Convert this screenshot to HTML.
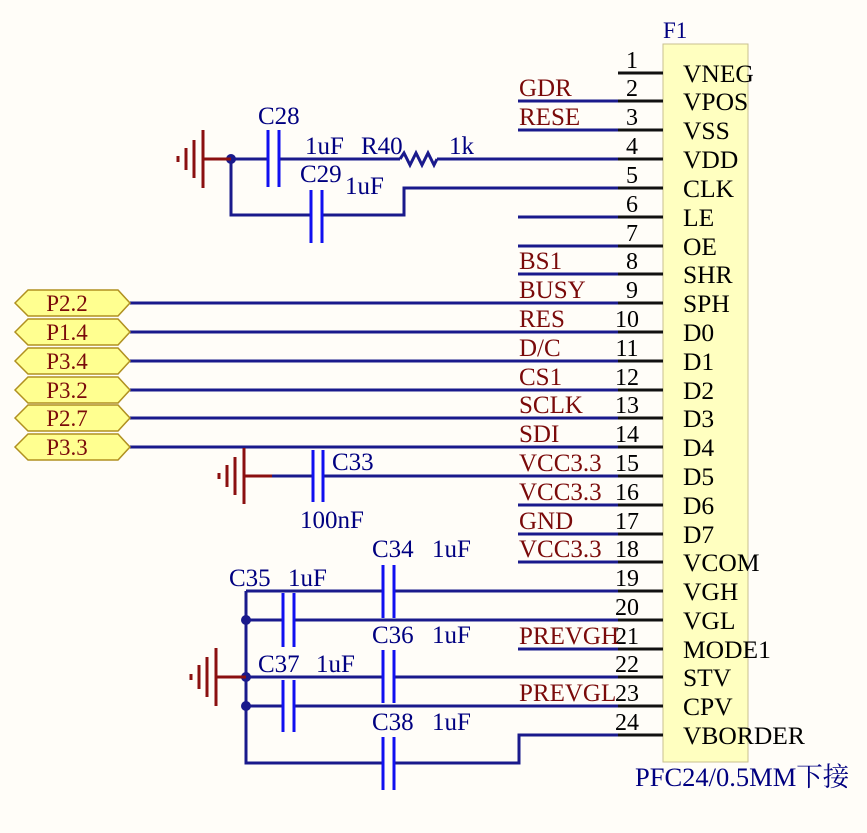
<!DOCTYPE html>
<html><head><meta charset="utf-8"><style>
html,body{margin:0;padding:0;background:#fffdf8;}
svg{display:block;font-family:"Liberation Serif","Noto Serif CJK SC",serif;}
.w{stroke:#1a1a8c;stroke-width:3;fill:none}
.k{stroke:#111;stroke-width:3;fill:none}
.cp{stroke:#1010f0;stroke-width:3;fill:none}
.g{stroke:#8b1010;stroke-width:3;fill:none}
.pn{font-size:25.5px;fill:#000}
.nm{font-size:24px;fill:#000;text-anchor:middle}
.nl{font-size:25px;fill:#7a0a0a}
.bl{font-size:25px;fill:#000080}
</style></head><body>
<svg width="867" height="833" viewBox="0 0 867 833">
<rect x="663" y="44" width="85" height="718" fill="#ffffc0" stroke="#c8c090" stroke-width="1"/>
<text x="663" y="38" class="bl" style="font-size:23px">F1</text>
<text x="635" y="786" class="bl" style="font-size:26.5px">PFC24/0.5MM下接</text>

<g class="w">
<line x1="518" y1="101" x2="620" y2="101"/>
<line x1="518" y1="130" x2="620" y2="130"/>
<line x1="518" y1="217" x2="620" y2="217"/>
<line x1="518" y1="246" x2="620" y2="246"/>
<line x1="518" y1="274" x2="620" y2="274"/>
<line x1="518" y1="505" x2="620" y2="505"/>
<line x1="518" y1="534" x2="620" y2="534"/>
<line x1="518" y1="562" x2="620" y2="562"/>
<line x1="518" y1="649" x2="620" y2="649"/>
<line x1="130" y1="303" x2="620" y2="303"/>
<line x1="130" y1="332" x2="620" y2="332"/>
<line x1="130" y1="361" x2="620" y2="361"/>
<line x1="130" y1="390" x2="620" y2="390"/>
<line x1="130" y1="418" x2="620" y2="418"/>
<line x1="130" y1="447" x2="620" y2="447"/>
<line x1="231" y1="159" x2="268" y2="159"/>
<line x1="279" y1="159" x2="400" y2="159"/>
<polyline points="400,159 404,153 410,165 416,153 422,165 428,153 434,165 437,159"/>
<line x1="437" y1="159" x2="620" y2="159"/>
<polyline points="231,159 231,215 311,215"/>
<polyline points="322,215 404,215 404,188 620,188"/>
<line x1="272" y1="476" x2="313" y2="476"/>
<line x1="323" y1="476" x2="620" y2="476"/>
<polyline points="246,591 246,763 383,763"/>
<polyline points="394,763 519,763 519,735 620,735"/>
<line x1="246" y1="591" x2="383" y2="591"/>
<line x1="394" y1="591" x2="620" y2="591"/>
<line x1="246" y1="620" x2="283" y2="620"/>
<line x1="294" y1="620" x2="620" y2="620"/>
<line x1="246" y1="677" x2="383" y2="677"/>
<line x1="394" y1="677" x2="620" y2="677"/>
<line x1="246" y1="706" x2="283" y2="706"/>
<line x1="294" y1="706" x2="620" y2="706"/>
</g>
<g fill="#1a1a8c">
<circle cx="231" cy="159" r="5"/>
<circle cx="246" cy="620" r="5"/>
<circle cx="246" cy="677" r="5"/>
<circle cx="246" cy="706" r="5"/>
</g>
<g class="cp">
<line x1="268" y1="130" x2="268" y2="187"/><line x1="279" y1="130" x2="279" y2="187"/>
<line x1="311" y1="190" x2="311" y2="243"/><line x1="322" y1="190" x2="322" y2="243"/>
<line x1="313" y1="450" x2="313" y2="502"/><line x1="323" y1="450" x2="323" y2="502"/>
<line x1="383" y1="565" x2="383" y2="618"/><line x1="394" y1="565" x2="394" y2="618"/>
<line x1="283" y1="593" x2="283" y2="647"/><line x1="294" y1="593" x2="294" y2="647"/>
<line x1="383" y1="650" x2="383" y2="703"/><line x1="394" y1="650" x2="394" y2="703"/>
<line x1="283" y1="680" x2="283" y2="732"/><line x1="294" y1="680" x2="294" y2="732"/>
<line x1="383" y1="737" x2="383" y2="790"/><line x1="394" y1="737" x2="394" y2="790"/>
</g>
<g class="g">
<line x1="203" y1="159" x2="231" y2="159"/><line x1="203" y1="130" x2="203" y2="188"/><line x1="194" y1="140" x2="194" y2="178"/><line x1="186" y1="148" x2="186" y2="170"/><line x1="178" y1="156" x2="178" y2="162"/>
<line x1="244" y1="476" x2="272" y2="476"/><line x1="244" y1="448" x2="244" y2="504"/><line x1="235" y1="457" x2="235" y2="495"/><line x1="227" y1="465" x2="227" y2="487"/><line x1="219" y1="473" x2="219" y2="479"/>
<line x1="216" y1="677" x2="246" y2="677"/><line x1="216" y1="648" x2="216" y2="706"/><line x1="207" y1="657" x2="207" y2="697"/><line x1="199" y1="665" x2="199" y2="689"/><line x1="191" y1="674" x2="191" y2="680"/>
</g>
<g class="k">
<line x1="618" y1="73" x2="663" y2="73"/><line x1="618" y1="101" x2="663" y2="101"/><line x1="618" y1="130" x2="663" y2="130"/><line x1="618" y1="159" x2="663" y2="159"/><line x1="618" y1="188" x2="663" y2="188"/><line x1="618" y1="217" x2="663" y2="217"/><line x1="618" y1="246" x2="663" y2="246"/><line x1="618" y1="274" x2="663" y2="274"/><line x1="618" y1="303" x2="663" y2="303"/><line x1="618" y1="332" x2="663" y2="332"/><line x1="618" y1="361" x2="663" y2="361"/><line x1="618" y1="390" x2="663" y2="390"/><line x1="618" y1="418" x2="663" y2="418"/><line x1="618" y1="447" x2="663" y2="447"/><line x1="618" y1="476" x2="663" y2="476"/><line x1="618" y1="505" x2="663" y2="505"/><line x1="618" y1="534" x2="663" y2="534"/><line x1="618" y1="562" x2="663" y2="562"/><line x1="618" y1="591" x2="663" y2="591"/><line x1="618" y1="620" x2="663" y2="620"/><line x1="618" y1="649" x2="663" y2="649"/><line x1="618" y1="677" x2="663" y2="677"/><line x1="618" y1="706" x2="663" y2="706"/><line x1="618" y1="735" x2="663" y2="735"/>
</g>
<g class="nm">
<text x="632" y="68">1</text><text x="632" y="96">2</text><text x="632" y="125">3</text><text x="632" y="154">4</text><text x="632" y="183">5</text><text x="632" y="212">6</text><text x="632" y="241">7</text><text x="632" y="269">8</text><text x="632" y="298">9</text><text x="627" y="327">10</text><text x="627" y="356">11</text><text x="627" y="385">12</text><text x="627" y="413">13</text><text x="627" y="442">14</text><text x="627" y="471">15</text><text x="627" y="500">16</text><text x="627" y="529">17</text><text x="627" y="557">18</text><text x="627" y="586">19</text><text x="627" y="615">20</text><text x="627" y="644">21</text><text x="627" y="672">22</text><text x="627" y="701">23</text><text x="627" y="730">24</text>
</g>
<g class="pn">
<text x="683" y="82">VNEG</text><text x="683" y="110">VPOS</text><text x="683" y="139">VSS</text><text x="683" y="168">VDD</text><text x="683" y="197">CLK</text><text x="683" y="226">LE</text><text x="683" y="255">OE</text><text x="683" y="283">SHR</text><text x="683" y="312">SPH</text><text x="683" y="341">D0</text><text x="683" y="370">D1</text><text x="683" y="399">D2</text><text x="683" y="427">D3</text><text x="683" y="456">D4</text><text x="683" y="485">D5</text><text x="683" y="514">D6</text><text x="683" y="543">D7</text><text x="683" y="571">VCOM</text><text x="683" y="600">VGH</text><text x="683" y="629">VGL</text><text x="683" y="658">MODE1</text><text x="683" y="686">STV</text><text x="683" y="715">CPV</text><text x="683" y="744">VBORDER</text>
</g>
<g class="nl">
<text x="519" y="96">GDR</text><text x="519" y="125">RESE</text><text x="519" y="269">BS1</text><text x="519" y="298">BUSY</text><text x="519" y="327">RES</text><text x="519" y="356">D/C</text><text x="519" y="385">CS1</text><text x="519" y="413">SCLK</text><text x="519" y="442">SDI</text><text x="519" y="471">VCC3.3</text><text x="519" y="500">VCC3.3</text><text x="519" y="529">GND</text><text x="519" y="557">VCC3.3</text><text x="519" y="644">PREVGH</text><text x="519" y="701">PREVGL</text>
</g>
<g class="bl">
<text x="258" y="124">C28</text><text x="305" y="154">1uF</text><text x="361" y="154">R40</text><text x="449" y="154">1k</text><text x="300" y="182">C29</text><text x="345" y="194">1uF</text>
<text x="332" y="470">C33</text><text x="300" y="528">100nF</text>
<text x="372" y="557">C34</text><text x="432" y="557">1uF</text>
<text x="229" y="586">C35</text><text x="288" y="586">1uF</text>
<text x="372" y="643">C36</text><text x="432" y="643">1uF</text>
<text x="258" y="672">C37</text><text x="316" y="672">1uF</text>
<text x="372" y="730">C38</text><text x="432" y="730">1uF</text>
</g>
<g fill="#ffff90" stroke="#b09020" stroke-width="1.5">
<polygon points="15,303 28,290 118,290 130,303 118,316 28,316"/>
<polygon points="15,332 28,319 118,319 130,332 118,345 28,345"/>
<polygon points="15,361 28,348 118,348 130,361 118,374 28,374"/>
<polygon points="15,390 28,377 118,377 130,390 118,403 28,403"/>
<polygon points="15,418 28,405 118,405 130,418 118,431 28,431"/>
<polygon points="15,447 28,434 118,434 130,447 118,460 28,460"/>
</g>
<g font-size="23" fill="#7a0a0a" text-anchor="middle">
<text x="67" y="311">P2.2</text><text x="67" y="340">P1.4</text><text x="67" y="369">P3.4</text><text x="67" y="398">P3.2</text><text x="67" y="426">P2.7</text><text x="67" y="455">P3.3</text>
</g>
</svg>
</body></html>
